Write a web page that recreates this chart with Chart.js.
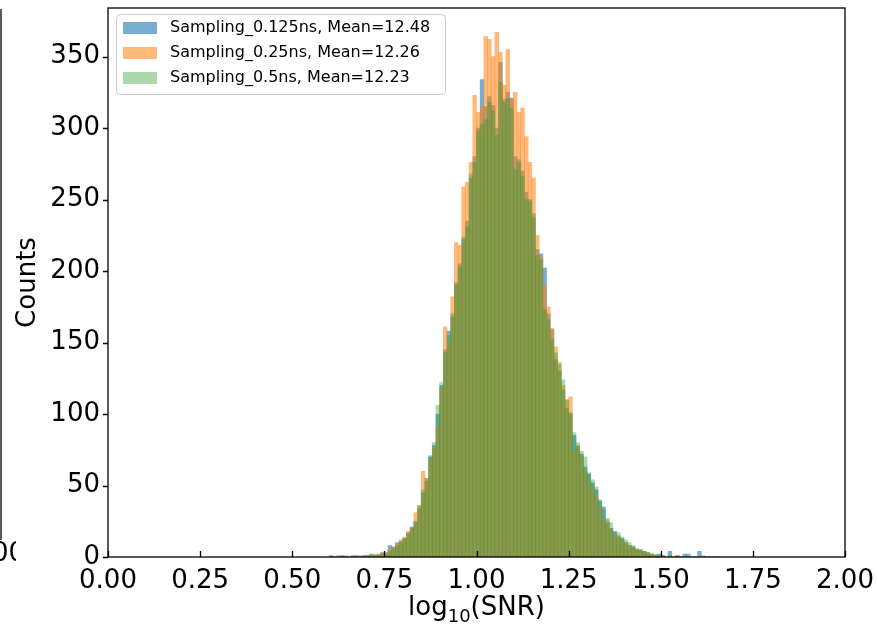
<!DOCTYPE html>
<html lang="en">
<head>
    <meta charset="UTF-8">
    <title>SNR histogram</title>
    <script src="https://cdn.jsdelivr.net/npm/chart.js"></script>
    <style>
        body {
            margin: 0;
            background: #ffffff;
        }
        #wrap {
            width: 878px;
            height: 624px;
        }
    </style>
</head>
<body>
    <div id="wrap">
        <canvas id="histChart" width="878" height="624"></canvas>
    </div>

    <script>
        // histogram bins: left edge of first bin and bin width (log10 SNR)
        const firstBinEdge = 0.60;
        const binWidth = 0.01;

        const seriesLabels = [
            "Sampling_0.125ns, Mean=12.48",
            "Sampling_0.25ns, Mean=12.26",
            "Sampling_0.5ns, Mean=12.23"
        ];

        // counts per bin, bins 0.60 .. 1.65
        const counts0125 = [
            1, 0, 0, 1, 0, 0, 0, 1, 0, 1,
            1, 2, 1, 2, 3, 3, 8, 7, 10, 11,
            13, 17, 21, 25, 34, 45, 53, 70, 78, 100,
            120, 145, 158, 168, 192, 205, 222, 235, 265, 280,
            300, 334, 315, 322, 316, 300, 346, 320, 325, 321,
            280, 278, 270, 255, 250, 240, 215, 212, 202, 170,
            159, 138, 130, 117, 104, 100, 85, 77, 72, 63,
            58, 52, 47, 39, 35, 24, 20, 18, 14, 13,
            10, 8, 7, 5, 5, 4, 3, 2, 1, 2,
            1, 0, 4, 0, 1, 0, 2, 2, 0, 0,
            4, 0, 0, 0, 0, 0
        ];
        const counts025 = [
            0, 0, 1, 0, 0, 0, 1, 0, 0, 1,
            0, 1, 2, 1, 3, 3, 5, 7, 9, 12,
            14, 18, 20, 31, 36, 60, 55, 68, 76, 91,
            118, 161, 150, 182, 220, 218, 259, 262, 276, 323,
            311, 315, 364, 362, 350, 367, 353, 330, 355, 320,
            325, 311, 314, 294, 276, 265, 225, 210, 190, 175,
            160, 147, 136, 120, 110, 112, 73, 78, 70, 60,
            52, 48, 42, 35, 24, 26, 20, 14, 15, 12,
            10, 8, 7, 5, 5, 3, 3, 2, 1, 1,
            1, 0, 0, 0, 1, 0, 0, 0, 0, 0,
            0, 1, 0, 0, 0, 0
        ];
        const counts05 = [
            0, 0, 0, 0, 1, 0, 1, 0, 1, 0,
            1, 1, 1, 1, 2, 2, 4, 6, 8, 10,
            13, 16, 20, 24, 36, 47, 55, 71, 80, 106,
            122, 143, 155, 170, 190, 203, 224, 231, 268, 276,
            298, 303, 306, 318, 312, 295, 332, 318, 321, 314,
            271, 276, 266, 250, 249, 237, 211, 208, 173, 166,
            152, 143, 135, 124, 110, 101, 87, 80, 74, 70,
            59, 54, 49, 40, 33, 27, 24, 17, 17, 14,
            12, 10, 8, 6, 5, 4, 3, 2, 2, 1,
            1, 0, 1, 0, 0, 0, 0, 0, 0, 0,
            0, 0, 0, 0, 0, 0
        ];

        const xTicks = [0, 0.25, 0.5, 0.75, 1.0, 1.25, 1.5, 1.75, 2.0];
        const yTicks = [0, 50, 100, 150, 200, 250, 300, 350];

        const FONT = "'DejaVu Sans', 'Liberation Sans', sans-serif";

        function toPoints(counts) {
            return counts.map((c, i) => ({ x: firstBinEdge + (i + 0.5) * binWidth, y: c }));
        }

        // legend, frame, tick marks and axis titles drawn like matplotlib
        const decorPlugin = {
            id: 'decor',
            afterDraw(chart) {
                const ctx = chart.ctx;
                const area = chart.chartArea;
                const xs = chart.scales.x;
                const ys = chart.scales.y;
                ctx.save();

                // frame
                ctx.strokeStyle = '#000';
                ctx.lineWidth = 1.3;
                ctx.strokeRect(area.left, area.top, area.right - area.left, area.bottom - area.top);

                // x ticks point inward, y ticks outward
                ctx.beginPath();
                xTicks.forEach(v => {
                    const px = Math.round(xs.getPixelForValue(v)) + 0.5;
                    ctx.moveTo(px, area.bottom);
                    ctx.lineTo(px, area.bottom - 6);
                });
                yTicks.forEach(v => {
                    const py = Math.round(ys.getPixelForValue(v)) + 0.5;
                    ctx.moveTo(area.left, py);
                    ctx.lineTo(area.left - 5, py);
                });
                ctx.stroke();

                // axis titles
                ctx.fillStyle = '#000';
                ctx.font = '26px ' + FONT;
                ctx.textAlign = 'center';
                ctx.textBaseline = 'middle';
                ctx.save();
                ctx.translate(28, (area.top + area.bottom) / 2);
                ctx.rotate(-Math.PI / 2);
                ctx.fillText('Counts', 0, 0);
                ctx.restore();

                const mainFont = '26px ' + FONT;
                const subFont = '18px ' + FONT;
                ctx.textBaseline = 'alphabetic';
                ctx.textAlign = 'left';
                ctx.font = mainFont;
                const wLog = ctx.measureText('log').width;
                const wRest = ctx.measureText('(SNR)').width;
                ctx.font = subFont;
                const wSub = ctx.measureText('10').width;
                let tx = (area.left + area.right) / 2 - (wLog + wSub + wRest) / 2;
                ctx.font = mainFont;
                ctx.fillText('log', tx, 615);
                ctx.font = subFont;
                ctx.fillText('10', tx + wLog, 622);
                ctx.font = mainFont;
                ctx.fillText('(SNR)', tx + wLog + wSub, 615);

                // legend
                const lx = 116.5, ly = 14.5, lw = 329, lh = 80;
                ctx.beginPath();
                ctx.roundRect(lx, ly, lw, lh, 4);
                ctx.fillStyle = 'rgba(255,255,255,0.8)';
                ctx.fill();
                ctx.strokeStyle = '#cccccc';
                ctx.lineWidth = 1;
                ctx.stroke();
                ctx.font = '16px ' + FONT;
                ctx.textBaseline = 'middle';
                const rowY = [28, 53, 78];
                chart.data.datasets.slice().sort((a, b) => b.order - a.order).forEach((ds, i) => {
                    ctx.fillStyle = ds.backgroundColor;
                    ctx.fillRect(123, rowY[i] - 6, 34, 12);
                    ctx.fillStyle = '#000';
                    ctx.fillText(ds.label, 170, rowY[i]);
                });

                // edge of neighbouring panel cut off at left
                ctx.strokeStyle = '#000';
                ctx.lineWidth = 1.3;
                ctx.beginPath();
                ctx.moveTo(1, 9);
                ctx.lineTo(1, 540);
                ctx.stroke();
                ctx.save();
                ctx.beginPath();
                ctx.rect(0, 530, 16, 40);
                ctx.clip();
                ctx.font = '26px ' + FONT;
                ctx.textAlign = 'right';
                ctx.fillStyle = '#000';
                ctx.fillText('1.00', 25, 554);
                ctx.restore();

                ctx.restore();
            }
        };

        new Chart(document.getElementById('histChart'), {
            type: 'bar',
            data: {
                datasets: [
                    {
                        label: seriesLabels[0],
                        data: toPoints(counts0125),
                        backgroundColor: 'rgba(31,119,180,0.6)',
                        order: 3
                    },
                    {
                        label: seriesLabels[1],
                        data: toPoints(counts025),
                        backgroundColor: 'rgba(255,127,14,0.55)',
                        order: 2
                    },
                    {
                        label: seriesLabels[2],
                        data: toPoints(counts05),
                        backgroundColor: 'rgba(44,160,44,0.4)',
                        order: 1
                    }
                ]
            },
            options: {
                responsive: false,
                animation: false,
                events: [],
                layout: { padding: { top: 8, right: 33, left: 0, bottom: 0 } },
                datasets: {
                    bar: {
                        grouped: false,
                        barPercentage: 1,
                        categoryPercentage: 1,
                        borderWidth: 0
                    }
                },
                plugins: {
                    legend: { display: false },
                    tooltip: { enabled: false }
                },
                scales: {
                    x: {
                        type: 'linear',
                        offset: false,
                        min: 0,
                        max: 2,
                        grid: { display: false, drawTicks: false },
                        border: { display: false },
                        afterBuildTicks: s => { s.ticks = xTicks.map(v => ({ value: v })); },
                        afterFit: s => {
                            s.height = 67;
                            s.paddingLeft = 0;
                            s.paddingRight = 0;
                        },
                        ticks: {
                            color: '#000',
                            padding: 9,
                            maxRotation: 0,
                            autoSkip: false,
                            font: { family: FONT, size: 26 },
                            callback: v => v.toFixed(2)
                        }
                    },
                    y: {
                        min: 0,
                        max: 384,
                        grid: { display: false, drawTicks: false },
                        border: { display: false },
                        afterBuildTicks: s => { s.ticks = yTicks.map(v => ({ value: v })); },
                        afterFit: s => {
                            s.width = 108;
                            s.paddingTop = 0;
                            s.paddingBottom = 0;
                        },
                        ticks: {
                            color: '#000',
                            padding: 8,
                            autoSkip: false,
                            font: { family: FONT, size: 26 }
                        }
                    }
                }
            },
            plugins: [decorPlugin]
        });
    </script>
</body>
</html>
